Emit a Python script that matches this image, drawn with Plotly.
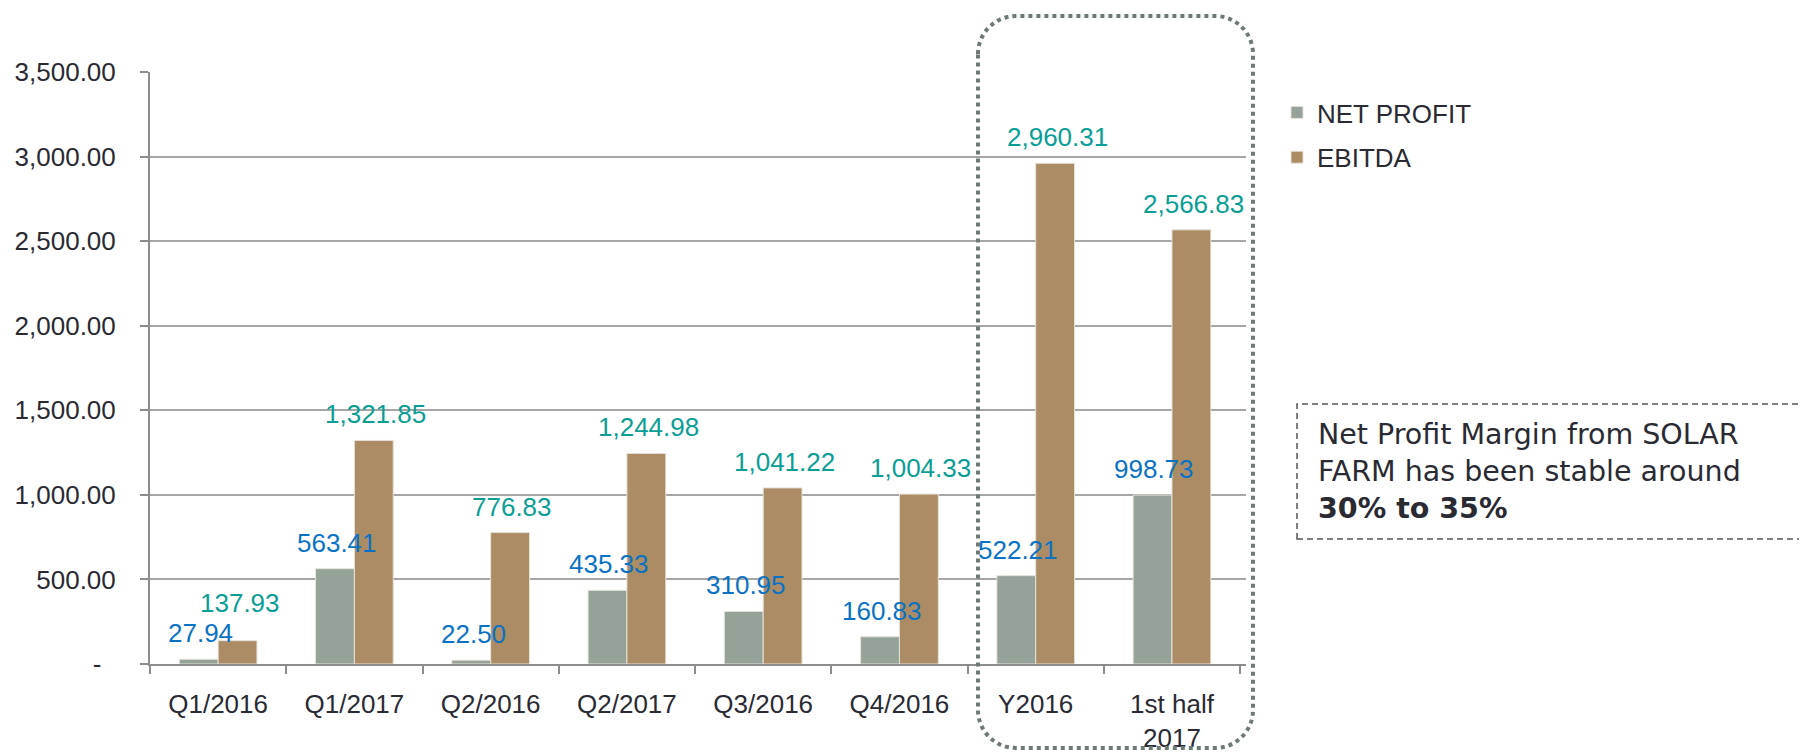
import plotly.graph_objects as go

# ---- data ----
categories = ["Q1/2016", "Q1/2017", "Q2/2016", "Q2/2017", "Q3/2016", "Q4/2016", "Y2016", "1st half<br>2017"]
net_profit = [27.94, 563.41, 22.50, 435.33, 310.95, 160.83, 522.21, 998.73]
ebitda = [137.93, 1321.85, 776.83, 1244.98, 1041.22, 1004.33, 2960.31, 2566.83]
y_tickvals = [0, 500, 1000, 1500, 2000, 2500, 3000, 3500]
y_ticktext = ["-\u00a0\u00a0", "500.00", "1,000.00", "1,500.00", "2,000.00", "2,500.00", "3,000.00", "3,500.00"]
series_names = ["NET PROFIT", "EBITDA"]
note_text = "Net Profit Margin from SOLAR<br>FARM has been stable around<br><b>30% to 35%</b>"

# ---- layout geometry (page pixels; the page body adds an 8px offset) ----
W, H = 1807, 752
OFF = 8
L, R, T, B = 150, 1246, 72, 664
Y_MAX = 3500


def fx(px):
    return (px - L) / (R - L)


def fy(py):
    return (B - py) / (B - T)


NP_COLOR = "#94A298"
EB_COLOR = "#AB8C64"
NP_LABEL = "#0A72C4"
EB_LABEL = "#0A9E96"
TXT = "#2A2A33"
AXIS = "#8C8C8C"
FONT = "Liberation Sans, Arial, sans-serif"

fig = go.Figure()
fig.add_trace(go.Bar(x=categories, y=net_profit, name=series_names[0],
                     marker=dict(color=NP_COLOR, line=dict(color="#E6E2DA", width=1)),
                     legendgroup="a"))
fig.add_trace(go.Bar(x=categories, y=ebitda, name=series_names[1],
                     marker=dict(color=EB_COLOR, line=dict(color="#E6E2DA", width=1)),
                     legendgroup="b"))

# data labels ("outside end"), EBITDA label nudged up when it would collide with the net-profit label
annotations = []
half_bar = (R - L) / len(categories) * (1 - 0.43) / 4
ppu = (B - T) / Y_MAX
LABEL_SHIFT = 26
MIN_SEP = 30
for cat, v_np, v_eb in zip(categories, net_profit, ebitda):
    np_center = v_np * ppu + LABEL_SHIFT
    eb_center = v_eb * ppu + LABEL_SHIFT
    eb_shift = LABEL_SHIFT + max(0, MIN_SEP - (eb_center - np_center))
    annotations.append(dict(x=cat, y=v_np, xref="x", yref="y", text=f"{v_np:,.2f}",
                            showarrow=False, xshift=-half_bar + 2, yshift=LABEL_SHIFT, yanchor="middle",
                            font=dict(family=FONT, size=26, color=NP_LABEL)))
    annotations.append(dict(x=cat, y=v_eb, xref="x", yref="y", text=f"{v_eb:,.2f}",
                            showarrow=False, xshift=half_bar + 2, yshift=eb_shift, yanchor="middle",
                            font=dict(family=FONT, size=26, color=EB_LABEL)))

annotations.append(dict(x=fx(1316), y=fy(416), xref="paper", yref="paper", xanchor="left",
                        yanchor="top", align="left", showarrow=False, text=note_text,
                        font=dict(family="DejaVu Sans, Verdana, sans-serif", size=28.5, color=TXT)))

# rounded dotted frame around the last two categories
x0, x1, y0, y1 = fx(978), fx(1253), fy(748), fy(16)
rx, ry = 38 / (R - L), 38 / (B - T)
k = 0.5523
path = (f"M{x0},{y1 - ry} "
        f"C{x0},{y1 - ry + k * ry} {x0 + rx - k * rx},{y1} {x0 + rx},{y1} "
        f"L{x1 - rx},{y1} "
        f"C{x1 - rx + k * rx},{y1} {x1},{y1 - ry + k * ry} {x1},{y1 - ry} "
        f"L{x1},{y0 + ry} "
        f"C{x1},{y0 + ry - k * ry} {x1 - rx + k * rx},{y0} {x1 - rx},{y0} "
        f"L{x0 + rx},{y0} "
        f"C{x0 + rx - k * rx},{y0} {x0},{y0 + ry - k * ry} {x0},{y0 + ry} Z")

shapes = [
    dict(type="path", path=path, xref="paper", yref="paper",
         line=dict(color="#6D7A73", width=4, dash="dot"), layer="above"),
    dict(type="rect", xref="paper", yref="paper", x0=fx(1297), x1=fx(1830), y0=fy(539), y1=fy(404),
         line=dict(color="#555555", width=1.5, dash="6px,4px")),
]

fig.update_layout(
    width=W, height=H,
    margin=dict(l=L - OFF, r=W - (R - OFF), t=T - OFF, b=H - (B - OFF), pad=0, autoexpand=False),
    paper_bgcolor="white", plot_bgcolor="white",
    barmode="group", bargap=0.43, bargroupgap=0,
    font=dict(family=FONT, size=26, color=TXT),
    annotations=annotations, shapes=shapes,
    legend=dict(x=fx(1277), y=fy(89), xanchor="left", yanchor="top",
                font=dict(family=FONT, size=26, color=TXT),
                traceorder="grouped", tracegroupgap=8, bgcolor="rgba(0,0,0,0)"),
    showlegend=True,
)
fig.update_xaxes(type="category", showline=True, linecolor=AXIS, linewidth=2,
                 ticks="outside", tickson="boundaries", ticklen=8, tickcolor=AXIS, tickwidth=2,
                 showgrid=False, tickfont=dict(family=FONT, size=26, color=TXT),
                 ticklabelstandoff=16, automargin=False)
fig.update_yaxes(range=[0, Y_MAX], tickvals=y_tickvals, ticktext=y_ticktext,
                 showgrid=True, gridcolor="#A6A6A6", gridwidth=1.5,
                 showline=True, linecolor=AXIS, linewidth=2, zeroline=False,
                 ticks="outside", ticklen=8, tickcolor=AXIS, tickwidth=2,
                 tickfont=dict(family=FONT, size=26, color=TXT), ticklabelstandoff=19,
                 automargin=False)

fig.write_html("out.html")
